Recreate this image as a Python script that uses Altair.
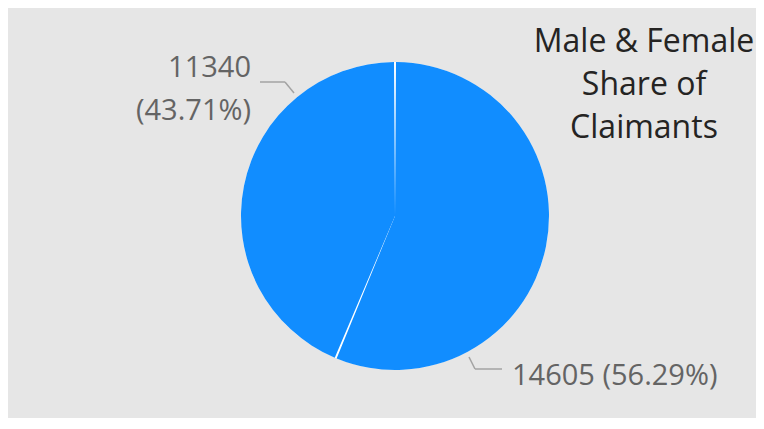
import altair as alt
import pandas as pd

# ---- data ----
categories = ["Male", "Female"]
claimants = [14605, 11340]
slice_order = [0, 1]
title_lines = ["Male & Female", "Share of", "Claimants"]

df = pd.DataFrame({"category": categories, "claimants": claimants, "idx": slice_order})

# ---- styles ----
BLUE = "#118DFF"
BG = "#E6E6E6"
LABEL = "#646464"
TITLE = "#252423"
LEADER = "#A3A3A3"
FONT = "Open Sans"
CX, CY, R = 387, 208, 154

base = alt.Chart(df).transform_joinaggregate(
    total="sum(claimants)"
).transform_calculate(
    pct="datum.claimants / datum.total"
)

theta = alt.Theta("claimants:Q", stack=True)
order = alt.Order("idx:Q", sort="ascending")

# white disc behind slices so that the gaps between slices appear white
disc = alt.Chart(df).transform_aggregate(
    total="sum(claimants)"
).mark_arc(outerRadius=R, color="white").encode(
    theta=alt.Theta("total:Q"),
    x=alt.value(CX), y=alt.value(CY),
)

slices = base.mark_arc(outerRadius=R, color=BLUE, padAngle=2.0 / R).encode(
    theta=theta,
    order=order,
    x=alt.value(CX), y=alt.value(CY),
    tooltip=["category:N", "claimants:Q", alt.Tooltip("pct:Q", format=".2%")],
)

label_small = base.transform_filter("datum.idx == 1").transform_calculate(
    lines="[format(datum.claimants, 'd'), '(' + format(datum.pct, '.2%') + ')']"
).mark_text(
    align="right", baseline="alphabetic", lineHeight=43, fontSize=29,
    font=FONT, color=LABEL,
).encode(text="lines:N", x=alt.value(243), y=alt.value(69))

label_big = base.transform_filter("datum.idx == 0").transform_calculate(
    lines="format(datum.claimants, 'd') + ' (' + format(datum.pct, '.2%') + ')'"
).mark_text(
    align="left", baseline="alphabetic", fontSize=29, font=FONT, color=LABEL,
).encode(text="lines:N", x=alt.value(504), y=alt.value(377))

title = alt.Chart(alt.Data(values=[{"lines": title_lines}])).mark_text(
    align="center", baseline="alphabetic", lineHeight=43, fontSize=32,
    font=FONT, color=TITLE,
).encode(text="lines:N", x=alt.value(636), y=alt.value(44))


def seg(x1, y1, x2, y2):
    return alt.Chart(alt.Data(values=[{"k": 1}])).mark_rule(
        color=LEADER, strokeWidth=1.5
    ).encode(x=alt.value(x1), x2=alt.value(x2), y=alt.value(y1), y2=alt.value(y2))


leaders = [
    seg(252, 74, 277, 74),
    seg(277, 74, 286, 85),
    seg(461, 349, 467, 361),
    seg(467, 361, 494, 361),
]

chart = alt.layer(disc, slices, *leaders, label_small, label_big, title).properties(
    width=748, height=410,
    autosize=alt.AutoSizeParams(type="fit", contains="padding"),
    padding=0,
    background=BG,
).configure_view(stroke=None)

chart.save("out.html", embed_options={"renderer": "svg", "actions": False})
